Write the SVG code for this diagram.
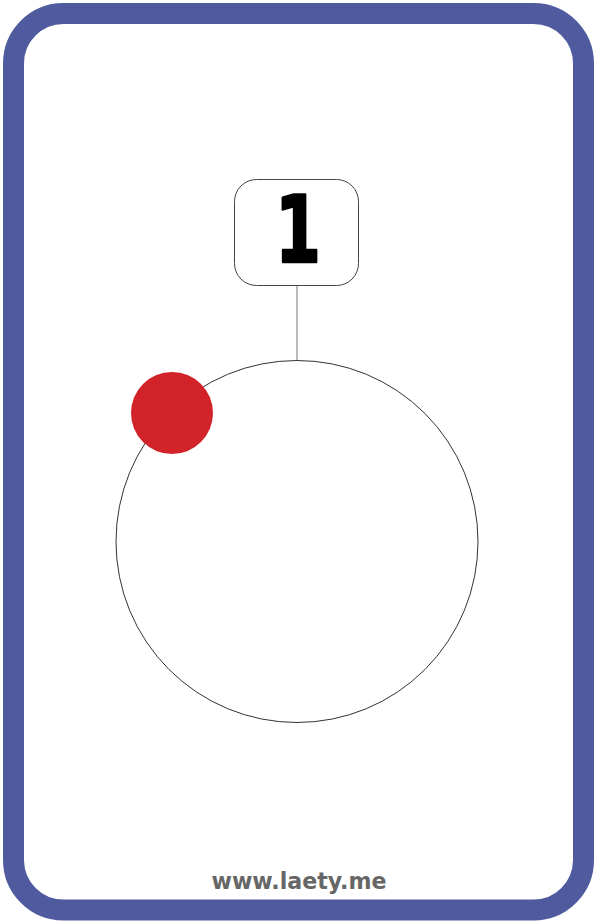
<svg xmlns="http://www.w3.org/2000/svg" width="594" height="921" viewBox="0 0 594 921">
<style>
.card{fill:#fff;stroke:#4F5A9F;stroke-width:21}
.thin{fill:none;stroke:#333;stroke-width:1}
.box{fill:#fff;stroke:#444;stroke-width:1}
.num{font-family:"DejaVu Sans",sans-serif;font-weight:bold;font-size:92px;fill:#000;stroke:#000;stroke-width:2.5;stroke-linejoin:round;text-anchor:middle}
.url{font-family:"DejaVu Sans",sans-serif;font-weight:600;font-size:23px;fill:#666;text-anchor:middle}
</style>
<rect class="card" x="13.5" y="13.5" width="570" height="896.5" rx="50"/>
<g id="connectors">
<line x1="297" y1="286" x2="297" y2="360" stroke="#777" stroke-width="1"/>
</g>
<g id="label">
<rect class="box" x="234.5" y="179.5" width="124" height="106" rx="22"/>
<text class="num" x="298" y="262" textLength="46" lengthAdjust="spacingAndGlyphs">1</text>
</g>
<g id="circle">
<circle class="thin" cx="297" cy="541.5" r="181"/>
</g>
<g id="dot">
<circle cx="172" cy="413" r="41" fill="#D2232A"/>
</g>
<text class="url" x="299" y="889" textLength="175" lengthAdjust="spacingAndGlyphs">www.laety.me</text>
</svg>
